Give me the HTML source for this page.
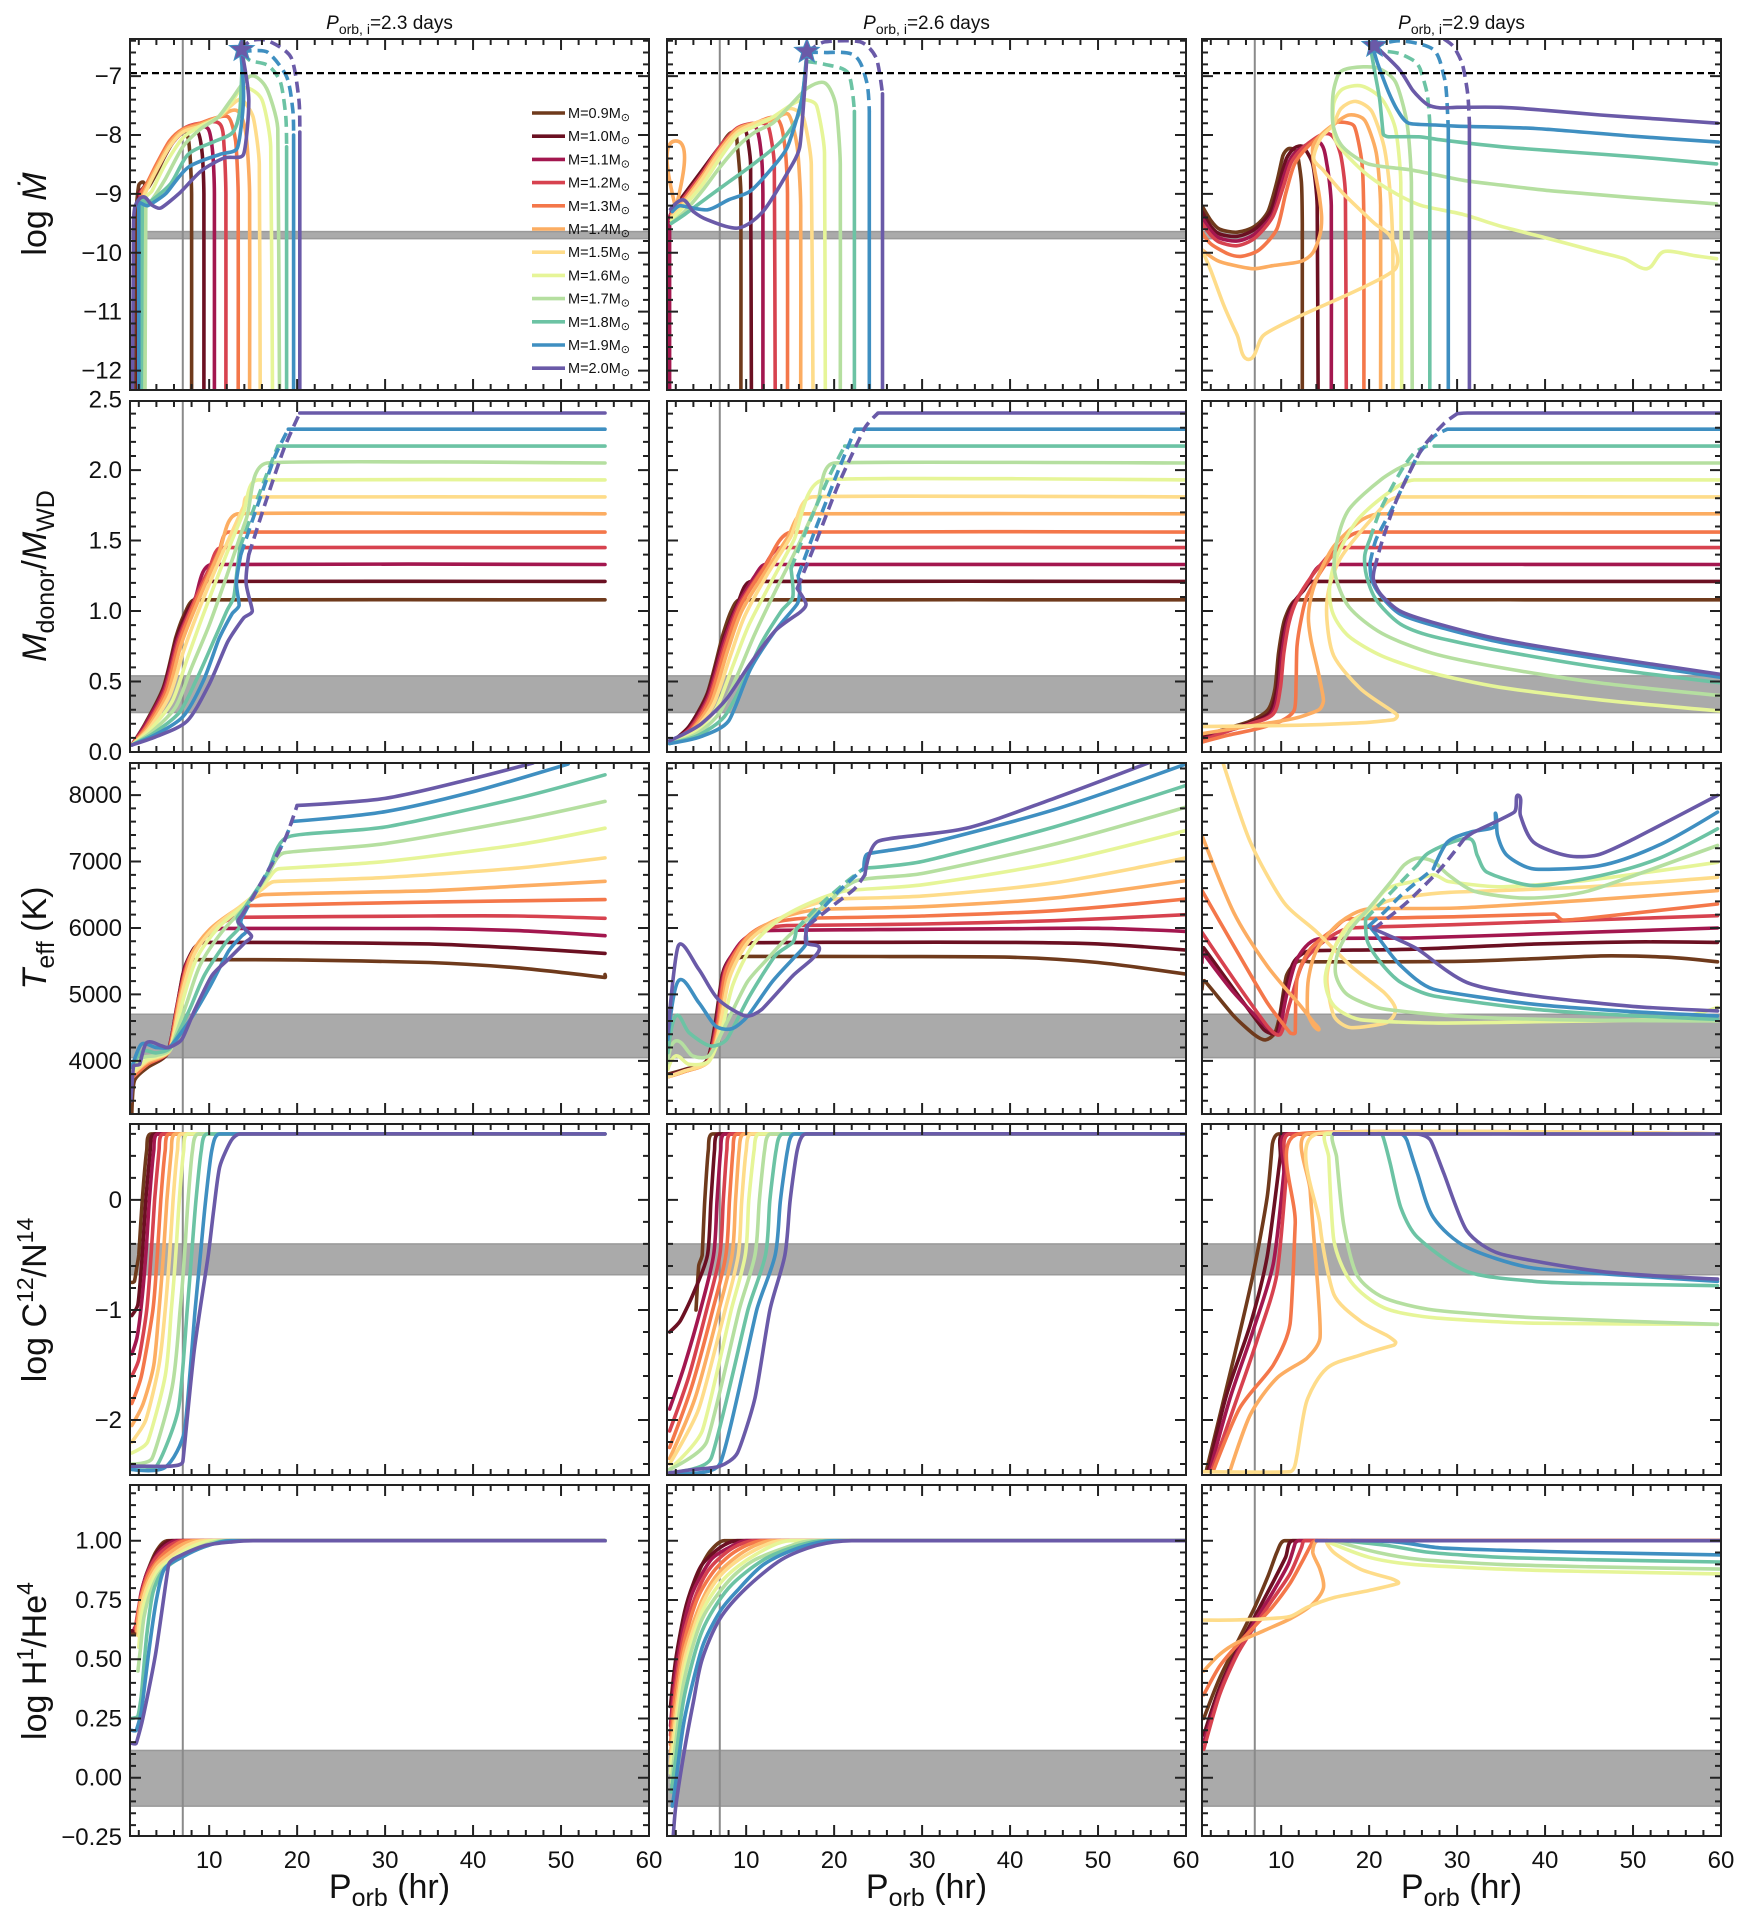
<!DOCTYPE html>
<html><head><meta charset="utf-8"><style>
html,body{margin:0;padding:0;background:#fff;}
svg{display:block;font-family:"Liberation Sans",sans-serif;}
</style></head><body>
<svg id="fig" width="1744" height="1920" viewBox="0 0 1744 1920" xmlns="http://www.w3.org/2000/svg"></svg>
<script>
// ---------- data ----------
const massLabels=["0.9","1.0","1.1","1.2","1.3","1.4","1.5","1.6","1.7","1.8","1.9","2.0"];
const colors=["#6f3a1c","#6b1022","#a3174f","#d7424f","#f4774a","#fcad62","#fedc8a","#e6f598","#b5dfa0","#6cc3a4","#3f8fc1","#6a5aa8"];
const periodTitles=["2.3","2.6","2.9"];
const xTicks=[10,20,30,40,50,60];
const yRanges=[[-12.33,-6.37],[0,2.49],[3200,8483],[-2.5,0.69],[-0.246,1.235]];
const yTickVals=[[-7,-8,-9,-10,-11,-12],[0,0.5,1,1.5,2,2.5],[4000,5000,6000,7000,8000],[0,-1,-2],[-0.25,0,0.25,0.5,0.75,1]];
const yTickLabels=[["−7","−8","−9","−10","−11","−12"],["0.0","0.5","1.0","1.5","2.0","2.5"],["4000","5000","6000","7000","8000"],["0","−1","−2"],["−0.25","0.00","0.25","0.50","0.75","1.00"]];
const yMinor=[0.2,0.1,200,0.2,0.05];
const bands=[[-9.76,-9.64],[0.28,0.54],[4048,4701],[-0.68,-0.40],[-0.12,0.115]];
const refPeriod=7.0;
const eddLimit=-6.95;
const stars=[[13.7,-6.55],[16.9,-6.58],[20.6,-6.48]];

// series: [massIndex, dashed, points]
const mdot23=[
[0,0,[[1.6,-12.35],[1.7,-9.3],[2,-8.85],[2.5,-8.8],[3,-8.9],[4,-8.65],[5,-8.35],[6,-8.1],[7.3,-7.95],[7.8,-8.3],[8,-9],[8,-12.35]]],
[1,0,[[1.9,-12.35],[2,-9.0],[2.5,-8.9],[4,-8.6],[5.5,-8.2],[7,-7.95],[8.6,-7.92],[9.2,-8.3],[9.4,-9],[9.4,-12.35]]],
[2,0,[[2.0,-12.35],[2.1,-9.0],[3,-8.85],[4,-8.6],[5.5,-8.2],[7,-7.95],[8.5,-7.85],[9.9,-7.9],[10.4,-8.3],[10.6,-9],[10.6,-12.35]]],
[3,0,[[2.1,-12.35],[2.2,-9.0],[3,-8.85],[4,-8.55],[5.5,-8.15],[7,-7.9],[9,-7.8],[11.2,-7.81],[11.7,-8.2],[11.9,-9],[11.9,-12.35]]],
[4,0,[[2.2,-12.35],[2.3,-9.0],[3,-8.8],[4,-8.5],[5.5,-8.1],[7,-7.9],[9,-7.8],[10.5,-7.72],[12.2,-7.7],[13,-8.1],[13.3,-9],[13.3,-12.35]]],
[5,0,[[2.3,-12.35],[2.4,-9.1],[3,-8.85],[4,-8.55],[5.5,-8.15],[7,-7.92],[9,-7.82],[11,-7.7],[13.2,-7.59],[14.2,-8.0],[14.6,-9],[14.6,-12.35]]],
[6,0,[[2.4,-12.35],[2.5,-9.1],[3,-8.9],[4,-8.6],[5.5,-8.2],[7,-7.95],[9,-7.85],[11,-7.7],[12.5,-7.5],[13.7,-7.4],[15,-7.7],[15.7,-8.5],[15.8,-12.35]]],
[7,0,[[2.5,-12.35],[2.6,-9.1],[3.5,-8.95],[5,-8.5],[7,-8.05],[9,-7.85],[11,-7.7],[12.5,-7.45],[14,-7.2],[16,-7.4],[17,-8.2],[17.2,-12.35]]],
[8,0,[[2.7,-12.35],[2.8,-9.2],[3.5,-9.1],[5,-8.75],[7,-8.2],[9,-7.9],[11,-7.7],[12.5,-7.4],[14.7,-7.0],[16.5,-7.2],[17.8,-7.9],[18,-12.35]]],
[9,0,[[2.3,-12.35],[2.4,-9.1],[3,-9.16],[5.6,-8.83],[7.6,-8.33],[10.6,-8.11],[12.7,-7.95],[13.5,-7.56],[13.8,-6.6]]],
[9,1,[[13.8,-6.6],[14.7,-6.74],[16.7,-6.82],[18.1,-7.1],[18.7,-7.67],[18.8,-8.2]]],
[9,0,[[18.8,-8.2],[18.8,-12.35]]],
[10,0,[[2.0,-12.35],[2.0,-9.16],[3,-9.2],[5.1,-8.99],[7.6,-8.55],[11.2,-8.33],[13.2,-8.22],[13.9,-7.4],[13.6,-6.6]]],
[10,1,[[13.6,-6.6],[14.7,-6.57],[16.7,-6.6],[18.8,-7.01],[19.5,-7.56],[19.6,-8.0]]],
[10,0,[[19.6,-8.0],[19.6,-12.35]]],
[11,0,[[1.3,-12.35],[1.4,-9.5],[1.6,-9.2],[2.5,-9.05],[3.5,-9.19],[4.5,-9.24],[6.6,-8.99],[9.1,-8.61],[11.7,-8.39],[13.9,-8.33],[14.5,-7.4],[13.7,-6.57]]],
[11,1,[[13.7,-6.57],[14.7,-6.4],[16.7,-6.4],[19.3,-6.68],[20.2,-7.4],[20.3,-7.95]]],
[11,0,[[20.3,-7.95],[20.3,-12.35]]]
];
const mdot26=[
[0,0,[[1.5,-9.3],[3,-9.0],[5,-8.6],[7,-8.2],[8.5,-7.95],[9.0,-8.2],[9.4,-9],[9.4,-12.35]]],
[1,0,[[1.5,-9.3],[3,-9.0],[5,-8.6],[7,-8.2],[9,-7.9],[10,-7.95],[10.5,-8.5],[10.6,-12.35]]],
[2,0,[[1.3,-12.35],[1.3,-9.4],[1.6,-9.3],[3,-9.05],[5,-8.65],[7,-8.2],[9,-7.9],[11,-7.85],[11.7,-8.3],[11.9,-9],[11.9,-12.35]]],
[3,0,[[1.5,-9.35],[3,-9.05],[5,-8.65],[7,-8.2],[9,-7.88],[11,-7.8],[12.5,-7.85],[13.2,-8.5],[13.3,-12.35]]],
[4,0,[[1.5,-9.35],[3,-9.1],[5,-8.7],[7,-8.25],[9,-7.9],[11,-7.8],[13.5,-7.72],[14.4,-8.2],[14.7,-9],[14.7,-12.35]]],
[5,0,[[1.5,-9.4],[1.9,-9.2],[2.0,-8.1],[2.1,-9.2],[3,-9.1],[5,-8.7],[7,-8.25],[9,-7.9],[11,-7.8],[13,-7.75],[14.8,-7.65],[15.8,-8.2],[16.2,-9.2],[16.2,-12.35]]],
[6,0,[[1.5,-9.4],[3,-9.15],[5,-8.75],[7,-8.3],[9,-7.95],[11,-7.8],[13,-7.7],[15,-7.55],[16.5,-7.7],[17.4,-8.5],[17.6,-12.35]]],
[7,0,[[1.5,-9.45],[3,-9.2],[5,-8.85],[7,-8.4],[9,-8.0],[11,-7.85],[13,-7.7],[15,-7.5],[16.5,-7.4],[18,-7.5],[18.9,-8.3],[19.0,-12.35]]],
[8,0,[[1.5,-9.5],[3,-9.3],[5,-8.95],[7,-8.55],[9,-8.2],[11,-7.95],[13,-7.8],[15,-7.5],[17,-7.2],[19,-7.12],[20.2,-7.5],[20.7,-8.5],[20.7,-12.35]]],
[9,0,[[1.5,-9.5],[3,-9.35],[5.6,-9.06],[8,-8.8],[10.5,-8.53],[14,-8.1],[16.1,-7.6],[16.8,-6.75]]],
[9,1,[[16.8,-6.75],[18.9,-6.8],[21.6,-6.95],[22.3,-7.6]]],
[9,0,[[22.3,-7.6],[22.3,-12.35]]],
[10,0,[[1.6,-9.3],[2.5,-9.2],[5.6,-9.27],[8,-9.1],[10.5,-8.95],[13,-8.55],[14.7,-8.2],[16.3,-7.4],[16.9,-6.6]]],
[10,1,[[16.9,-6.6],[18.9,-6.6],[22.3,-6.65],[23.7,-7.1],[24,-7.6]]],
[10,0,[[24,-7.6],[24,-12.35]]],
[11,0,[[1.4,-9.26],[2.8,-9.1],[4,-9.3],[5.6,-9.44],[9.1,-9.58],[11.9,-9.3],[14.7,-8.64],[16.1,-8.2],[16.8,-6.9],[16.9,-6.6]]],
[11,1,[[16.9,-6.6],[18.9,-6.42],[23,-6.42],[24.8,-6.7],[25.5,-7.3]]],
[11,0,[[25.5,-7.3],[25.5,-12.35]]]
];
const mdot29=[
[0,0,[[1,-9.2],[2,-9.45],[3,-9.6],[5,-9.65],[7,-9.55],[8.5,-9.3],[9.5,-8.8],[10.2,-8.35],[10.9,-8.23],[11.8,-8.3],[12.3,-8.8],[12.4,-9.5],[12.4,-12.35]]],
[1,0,[[1,-9.3],[2,-9.55],[3,-9.68],[5,-9.72],[7,-9.6],[8.8,-9.3],[9.8,-8.8],[10.6,-8.4],[11.5,-8.22],[12.5,-8.2],[13.6,-8.5],[14.1,-9.2],[14.2,-12.35]]],
[2,0,[[1,-9.4],[2,-9.62],[3,-9.75],[5,-9.8],[7,-9.68],[9,-9.35],[10,-8.85],[10.9,-8.45],[12,-8.25],[14.3,-8.12],[15.2,-8.5],[15.7,-9.2],[15.7,-12.35]]],
[3,0,[[1,-9.5],[2,-9.7],[3,-9.82],[5,-9.88],[7,-9.75],[9,-9.4],[10.2,-8.9],[11.2,-8.45],[13,-8.15],[15.4,-7.98],[16.7,-8.3],[17.3,-9.0],[17.4,-12.35]]],
[4,0,[[1,-9.65],[2,-9.85],[4,-10.02],[5.5,-10.06],[7.5,-9.95],[9.5,-9.6],[10.5,-9.0],[11.5,-8.5],[13,-8.2],[15.9,-7.83],[16.5,-7.78],[18.3,-7.85],[19.2,-8.5],[19.4,-9.5],[19.4,-12.35]]],
[5,0,[[1,-9.95],[3,-10.15],[6.7,-10.27],[9,-10.22],[12.2,-10.15],[13.6,-10.0],[14.4,-9.7],[14.6,-9.4],[14.3,-9.0],[13.7,-8.5],[13.6,-8.2],[14.5,-8.0],[15.9,-7.83],[17.7,-7.66],[19.5,-7.75],[20.8,-8.3],[21.3,-9.2],[21.3,-12.35]]],
[6,0,[[1,-9.95],[2,-10.3],[3.5,-10.9],[5,-11.4],[6.3,-11.81],[8,-11.4],[12.2,-11.07],[17,-10.75],[21.3,-10.44],[23.0,-10.27],[23.2,-10.05],[22.3,-9.7],[20.6,-9.5],[17.1,-9.0],[14.8,-8.6],[13.7,-8.4],[14.5,-8.05],[15.9,-7.83],[16.8,-7.55],[18.5,-7.43],[20.3,-7.6],[21.7,-8.2],[22.4,-9.0],[22.7,-10],[22.7,-12.35]]],
[7,0,[[59.5,-10.1],[57,-10.05],[53.5,-9.98],[51.6,-10.27],[49,-10.1],[45.9,-9.98],[40.2,-9.75],[35,-9.55],[30.7,-9.35],[26,-9.2],[23.1,-9.0],[20,-8.7],[17.5,-8.35],[16.2,-8.1],[15.9,-7.83],[16.0,-7.45],[17,-7.22],[19.2,-7.17],[21.5,-7.4],[23,-7.9],[23.6,-8.8],[23.7,-12.35]]],
[8,0,[[59.5,-9.17],[55,-9.12],[49.7,-9.06],[45,-9.0],[40.2,-8.94],[35,-8.85],[30.7,-8.77],[25,-8.6],[19.9,-8.49],[17,-8.2],[15.9,-7.83],[15.9,-7.3],[16.6,-6.95],[18,-6.86],[20.9,-6.86],[23,-7.1],[24.3,-7.8],[24.8,-8.8],[24.9,-12.35]]],
[9,0,[[59.5,-8.49],[50.3,-8.37],[42,-8.28],[35.1,-8.2],[28,-8.08],[25.6,-8.03],[22.2,-8.03],[21.6,-7.98],[21.2,-7.4],[20.6,-6.9],[20.2,-6.55]]],
[9,1,[[20.2,-6.55],[22,-6.58],[23.5,-6.62],[25.2,-6.75],[25.8,-6.88],[26.6,-7.3],[26.9,-7.8]]],
[9,0,[[26.9,-7.8],[26.9,-12.35]]],
[10,0,[[59.7,-8.12],[50,-8.02],[38.9,-7.89],[30,-7.85],[27.5,-7.83],[24.5,-7.8],[23.3,-7.6],[22.2,-7.27],[21,-6.8],[20.4,-6.5]]],
[10,1,[[20.4,-6.5],[23.5,-6.4],[27.3,-6.55],[28.5,-7.0],[28.8,-7.3],[29,-7.9]]],
[10,0,[[29,-7.9],[29,-12.35]]],
[11,0,[[59.6,-7.8],[53,-7.73],[46.3,-7.66],[40,-7.58],[35,-7.53],[30,-7.53],[28.1,-7.54],[26.6,-7.48],[25,-7.25],[23.5,-6.9],[21.5,-6.6],[20.6,-6.48]]],
[11,1,[[28.5,-6.37],[29.6,-6.5],[30.6,-6.8],[31.2,-7.3],[31.4,-7.8]]],
[11,0,[[31.4,-7.8],[31.4,-12.35]]]
];
const q23=[
[0,0,[[1.2,0.05],[2.7,0.2],[4.8,0.46],[6.2,0.81],[7.2,0.98],[8.4,1.08],[55,1.08]]],
[1,0,[[1.2,0.05],[2.7,0.19],[4.8,0.45],[6.3,0.81],[7.5,1.0],[8.5,1.1],[9.6,1.21],[55,1.21]]],
[2,0,[[1.2,0.05],[2.7,0.19],[4.9,0.45],[6.4,0.8],[8.3,1.07],[10.3,1.33],[55,1.33]]],
[3,0,[[1.2,0.05],[2.8,0.18],[5,0.44],[6.5,0.79],[8.3,1.07],[10,1.3],[11.4,1.45],[55,1.45]]],
[4,0,[[1.2,0.05],[2.9,0.18],[5.1,0.43],[6.6,0.78],[8.4,1.06],[11.1,1.42],[12.2,1.56],[55,1.56]]],
[5,0,[[1.2,0.05],[3,0.17],[5.3,0.42],[6.8,0.76],[8.6,1.05],[11.1,1.41],[13.3,1.69],[55,1.69]]],
[6,0,[[1.2,0.05],[3.1,0.16],[5.5,0.4],[7.1,0.72],[8.9,1.02],[11.3,1.38],[13.9,1.74],[14.3,1.81],[55,1.81]]],
[7,0,[[1.2,0.05],[3.2,0.15],[5.8,0.36],[7.5,0.66],[9.3,0.97],[11.5,1.33],[13.9,1.7],[15.5,1.93],[55,1.93]]],
[8,0,[[1.2,0.05],[3.4,0.14],[6.2,0.32],[8,0.6],[10,0.9],[12,1.25],[14.2,1.65],[16.6,2.05],[55,2.05]]],
[9,0,[[1.2,0.05],[3.6,0.13],[6.6,0.28],[8.6,0.52],[10.6,0.8],[12,1.0],[12.8,1.1],[13.2,1.3],[13.5,1.45]]],
[9,1,[[13.5,1.45],[15.5,1.8],[17.8,2.17]]],
[9,0,[[17.8,2.17],[55,2.17]]],
[10,0,[[1.2,0.05],[3.8,0.12],[7,0.25],[9.3,0.5],[11.1,0.8],[12.6,0.98],[13.4,1.04],[13.1,1.2],[13.6,1.4]]],
[10,1,[[13.6,1.4],[15.5,1.75],[17.5,2.1],[19,2.29]]],
[10,0,[[19,2.29],[55,2.29]]],
[11,0,[[1.2,0.05],[4,0.11],[7.5,0.22],[10,0.48],[12.1,0.78],[13.9,0.95],[14.9,1.0],[14.2,1.2],[14.5,1.4]]],
[11,1,[[14.5,1.4],[16.3,1.75],[18.5,2.15],[20.3,2.405]]],
[11,0,[[20.3,2.405],[55,2.405]]]
];
const q26=[
[0,0,[[1.3,0.06],[3.5,0.18],[5.6,0.42],[7.3,0.82],[8.3,1.0],[9.3,1.08],[60,1.08]]],
[1,0,[[1.3,0.06],[3.5,0.18],[5.6,0.41],[7.4,0.8],[9,1.05],[10.6,1.21],[60,1.21]]],
[2,0,[[1.3,0.06],[3.6,0.17],[5.7,0.4],[7.5,0.79],[9.1,1.05],[11,1.25],[12.2,1.33],[60,1.33]]],
[3,0,[[1.3,0.06],[3.7,0.17],[5.8,0.39],[7.6,0.77],[9.2,1.04],[11.9,1.3],[14,1.45],[60,1.45]]],
[4,0,[[1.3,0.06],[3.8,0.16],[5.9,0.38],[7.7,0.75],[9.3,1.03],[12,1.3],[15.2,1.56],[60,1.56]]],
[5,0,[[1.3,0.06],[3.9,0.16],[6.1,0.36],[7.9,0.72],[9.5,1.0],[12.2,1.28],[14.7,1.52],[16.5,1.69],[60,1.69]]],
[6,0,[[1.3,0.06],[4,0.15],[6.3,0.34],[8.2,0.68],[9.8,0.96],[12.4,1.26],[15,1.52],[17.5,1.81],[60,1.81]]],
[7,0,[[1.3,0.06],[4.2,0.14],[6.6,0.31],[8.6,0.63],[10.3,0.9],[12.8,1.2],[15.4,1.5],[18.8,1.93],[60,1.93]]],
[8,0,[[1.3,0.06],[4.4,0.13],[7,0.28],[9.1,0.56],[11,0.84],[13.3,1.14],[15.8,1.45],[18,1.75],[20,2.05],[60,2.05]]],
[9,0,[[1.3,0.06],[4.6,0.12],[7.5,0.25],[9.7,0.5],[11.8,0.78],[14,1.0],[15.3,1.1],[15.1,1.3]]],
[9,1,[[15.1,1.3],[17,1.6],[19.4,1.95],[21.2,2.17]]],
[9,0,[[21.2,2.17],[60,2.17]]],
[10,0,[[1.3,0.06],[4.9,0.11],[8,0.22],[10.5,0.59],[13.3,0.86],[15.8,1.05],[16.1,1.16],[15.9,1.25]]],
[10,1,[[15.9,1.25],[18,1.6],[20.5,2.0],[22.4,2.29]]],
[10,0,[[22.4,2.29],[60,2.29]]],
[11,0,[[1.3,0.08],[3,0.13],[4.9,0.2],[7.7,0.37],[10.5,0.63],[13.3,0.86],[16.1,0.99],[16.8,1.05],[15.8,1.16]]],
[11,1,[[15.8,1.16],[18,1.5],[20.5,1.9],[23.5,2.3],[25,2.405]]],
[11,0,[[25,2.405],[60,2.405]]]
];
const q29=[
[0,0,[[1,0.11],[4,0.17],[6.5,0.22],[8.5,0.3],[9.3,0.45],[9.7,0.7],[10.3,0.92],[11,1.03],[11.8,1.08],[60,1.08]]],
[1,0,[[1,0.1],[4,0.16],[6.5,0.21],[8.7,0.28],[9.5,0.45],[9.9,0.7],[10.5,0.92],[11.3,1.05],[12.6,1.15],[13.5,1.21],[60,1.21]]],
[2,0,[[1,0.09],[4,0.15],[6.5,0.2],[8.9,0.27],[9.7,0.45],[10.1,0.7],[10.7,0.92],[11.6,1.06],[13,1.2],[14.8,1.33],[60,1.33]]],
[3,0,[[1,0.08],[4,0.15],[6.5,0.2],[9.1,0.27],[9.9,0.45],[10.3,0.7],[10.9,0.92],[11.8,1.08],[13.5,1.25],[15.6,1.41],[16.2,1.45],[60,1.45]]],
[4,0,[[1,0.07],[4,0.12],[7,0.16],[10,0.22],[11.5,0.3],[11.7,0.5],[11.8,0.75],[12.3,0.95],[12.9,1.1],[14.5,1.28],[16,1.41],[17.5,1.52],[19,1.56],[60,1.56]]],
[5,0,[[1,0.13],[6,0.18],[10,0.22],[12.2,0.25],[14.3,0.3],[14.8,0.36],[14.6,0.45],[14.1,0.6],[13.4,0.79],[13.1,0.95],[13.4,1.1],[14.2,1.25],[16,1.46],[19,1.64],[21.3,1.69],[60,1.69]]],
[6,0,[[1,0.18],[12.2,0.19],[19.8,0.21],[22.8,0.23],[23.2,0.26],[22.4,0.3],[19,0.45],[16,0.68],[15.2,0.94],[15.4,1.15],[16.7,1.37],[19,1.56],[22,1.77],[23.5,1.81],[60,1.81]]],
[7,0,[[60,0.29],[46.2,0.37],[34.8,0.46],[27.2,0.56],[21.5,0.68],[17.7,0.82],[15.9,0.98],[15.5,1.17],[16.3,1.38],[18.6,1.64],[22,1.83],[25.1,1.93],[60,1.93]]],
[8,0,[[60,0.4],[46.2,0.49],[34.8,0.6],[27.2,0.7],[21.5,0.84],[17.7,1.03],[16.1,1.27],[16.3,1.48],[17.7,1.72],[21.3,1.93],[24.3,2.04],[26.6,2.05],[60,2.05]]],
[9,0,[[60,0.49],[46.2,0.6],[34.8,0.72],[27.2,0.82],[23.5,0.91],[20.8,1.08],[19.7,1.25],[19.5,1.39],[20.1,1.51]]],
[9,1,[[20.1,1.51],[21.3,1.72],[23.5,1.98],[25.1,2.12],[26.6,2.17],[27.4,2.17]]],
[9,0,[[27.4,2.17],[60,2.17]]],
[10,0,[[60,0.53],[46.2,0.66],[34.8,0.78],[27.2,0.9],[23.5,0.98],[21.3,1.11],[20.3,1.22],[20.1,1.34]]],
[10,1,[[20.1,1.34],[20.8,1.51],[22.8,1.75],[25.5,2.1],[27.4,2.24],[28.9,2.29]]],
[10,0,[[28.9,2.29],[60,2.29]]],
[11,0,[[60,0.55],[46.2,0.68],[34.8,0.8],[27.2,0.92],[23.5,1.0],[21.3,1.12],[20.5,1.22],[20.6,1.3]]],
[11,1,[[20.6,1.3],[21.5,1.5],[23.2,1.8],[26,2.15],[28.5,2.33],[30,2.4]]],
[11,0,[[30,2.4],[31.2,2.405],[60,2.405]]]
];
const teff23=[
[0,0,[[1.2,3200],[1.5,3700],[3,3900],[5.2,4100],[6.2,4700],[7,5300],[7.8,5500],[8.6,5522],[20,5520],[35,5480],[45,5400],[55,5255],[55,5300]]],
[1,0,[[1.3,3750],[3,3950],[5.3,4120],[6.3,4800],[7.2,5400],[8.3,5700],[9.4,5783],[20,5780],[35,5760],[45,5700],[55,5617]]],
[2,0,[[1.3,3750],[3,3950],[5.3,4130],[6.4,4850],[7.4,5450],[9,5800],[10.5,5950],[11.5,5994],[35,5990],[45,5960],[55,5884]]],
[3,0,[[1.3,3750],[3,3950],[5.4,4140],[6.5,4900],[7.6,5500],[9.5,5880],[11.5,6080],[13.2,6160],[35,6180],[45,6180],[55,6145]]],
[4,0,[[1.3,3750],[3,3950],[5.4,4150],[6.6,4950],[7.8,5550],[10,5950],[12.5,6200],[14.7,6336],[35,6390],[55,6427]]],
[5,0,[[1.3,3800],[3,3980],[5.5,4150],[6.7,4950],[8,5600],[10,5970],[13,6270],[16.2,6502],[35,6560],[45,6630],[55,6703]]],
[6,0,[[1.3,3800],[3,4000],[5.5,4160],[6.9,5000],[8.3,5600],[10.5,6000],[13.5,6320],[16,6580],[17.4,6698],[30,6760],[45,6900],[55,7054]]],
[7,0,[[1.3,3850],[3,4020],[5.6,4170],[7.1,4950],[8.6,5550],[11,6000],[14,6350],[16.5,6700],[17.9,6890],[30,7000],[45,7250],[55,7502]]],
[8,0,[[1.3,3900],[2.5,4050],[4,4080],[5.6,4180],[7.4,4850],[9,5450],[11.5,5950],[14.3,6350],[16.6,6789],[18.5,7130],[30,7270],[45,7620],[55,7905]]],
[9,0,[[1.3,3950],[2.5,4150],[4,4120],[5.6,4200],[7.7,4750],[9.5,5300],[12,5800],[13.4,6000],[13.2,6150],[14,6300],[16.5,6800],[18.9,7367],[30,7520],[45,7950],[55,8306]]],
[10,0,[[1.2,3900],[2.3,4250],[4,4200],[5.6,4220],[8,4650],[10,5100],[12.2,5650],[13.7,5880],[14.2,5950],[13.6,6080],[13.9,6200]]],
[10,1,[[13.9,6200],[16,6700],[18.5,7300],[19.4,7603]]],
[10,0,[[19.4,7603],[30,7750],[40,8050],[50.8,8468]]],
[11,0,[[1.1,3400],[1.4,3920],[2.1,3950],[2.9,4275],[4.5,4230],[5.4,4199],[6.9,4325],[8.4,4777],[10.3,5281],[12.2,5531],[14.1,5783],[14.8,5884],[13.3,6085],[13.7,6185]]],
[11,1,[[13.7,6185],[16,6700],[18.5,7300],[20,7845]]],
[11,0,[[20,7845],[30,7950],[40,8250],[46.8,8483]]]
];
const teff26=[
[0,0,[[1.1,3800],[3,3870],[5.5,4000],[6.4,4500],[7.3,5300],[8.5,5500],[10,5572],[25,5570],[40,5560],[50,5480],[60,5305]]],
[1,0,[[1.1,3780],[3,3860],[5.5,3990],[6.5,4550],[7.4,5350],[8.8,5650],[10.9,5778],[25,5785],[40,5783],[50,5760],[60,5667]]],
[2,0,[[1.1,3770],[3,3850],[5.6,3990],[6.6,4550],[7.5,5350],[9.5,5800],[12,5959],[25,5975],[40,5989],[50,5995],[60,5949]]],
[3,0,[[1.1,3760],[3,3840],[5.6,3990],[6.7,4550],[7.6,5350],[9.8,5830],[12,5980],[14.6,6035],[30,6060],[45,6110],[60,6200]]],
[4,0,[[1.1,3760],[3,3840],[5.7,3990],[6.8,4550],[7.7,5350],[10,5850],[12.5,6060],[16.5,6145],[30,6180],[45,6260],[60,6436]]],
[5,0,[[1.1,3760],[3,3840],[5.7,3990],[6.9,4500],[7.9,5300],[10,5830],[13,6100],[16,6230],[19.1,6285],[30,6320],[45,6450],[60,6713]]],
[6,0,[[1.1,3760],[3,3850],[5.8,3995],[7.0,4500],[8.1,5250],[10.3,5800],[13.5,6120],[17,6330],[20.3,6436],[30,6480],[45,6680],[60,7054]]],
[7,0,[[1.1,3872],[2,4074],[3.5,3948],[5.8,4000],[7.2,4450],[8.5,5150],[10.8,5750],[14,6150],[18,6420],[21.5,6562],[30,6650],[45,6980],[60,7467]]],
[8,0,[[1.1,3973],[2,4300],[3.9,4074],[5.8,4080],[7.8,4577],[10.1,5180],[12.4,5532],[15,5900],[19,6350],[22.6,6713],[30,6820],[45,7260],[60,7819]]],
[9,0,[[1.1,4124],[2,4677],[3.5,4425],[5.9,4225],[7.8,4325],[10.4,4979],[13.3,5582],[15.3,5783],[15.7,5984]]],
[9,1,[[15.7,5984],[18,6300],[21,6650],[23.4,6899]]],
[9,0,[[23.4,6899],[30,7000],[45,7520],[60,8146]]],
[10,0,[[1.1,4325],[2.3,5204],[4.6,4878],[6.5,4526],[8.4,4486],[10.2,4677],[12.9,5180],[15.3,5532],[16.8,5758],[16.8,5984],[17.6,6135]]],
[10,1,[[17.6,6135],[20.5,6550],[23.4,6899]]],
[10,0,[[23.4,6899],[23.8,7115],[30,7250],[45,7780],[60,8468]]],
[11,0,[[1.1,4425],[2.3,5733],[4.6,5380],[6.8,4929],[9.9,4677],[11.8,4778],[15.3,5281],[17.5,5532],[18.3,5708],[16.8,5783],[17,6035]]],
[11,1,[[17,6035],[20,6350],[22.3,6588],[23.5,6800]]],
[11,0,[[23.5,6800],[25,7306],[35,7500],[45,7950],[55.7,8483]]]
];
const teff29=[
[0,0,[[1,5079],[1.3,5204],[4.6,4677],[6.9,4400],[8.2,4315],[9.3,4425],[9.9,4727],[10.6,5280],[11.8,5491],[13.3,5491],[31.1,5500],[46.3,5580],[53.9,5560],[59.6,5491]]],
[1,0,[[1,5632],[1.2,5700],[4.6,5079],[8,4475],[9.5,4425],[10.3,4978],[11.4,5481],[13.3,5657],[25,5680],[38.7,5757],[50,5790],[59.6,5783]]],
[2,0,[[1,5481],[1.2,5607],[4.6,5029],[8.4,4500],[9.7,4415],[10.6,4978],[11.8,5531],[14.1,5833],[25,5850],[38.7,5908],[59.6,5999]]],
[3,0,[[1,5934],[4.6,5230],[8.4,4526],[9.9,4400],[11,4878],[12.5,5481],[15.2,5833],[17.9,5999],[30,6050],[45,6120],[59.6,6185]]],
[4,0,[[1,6562],[4.6,5733],[8.4,4878],[11,4425],[11.6,4425],[11.8,5230],[13.3,5682],[16,5984],[17.5,6135],[30,6170],[41,6210],[42,6120],[45,6150],[59.6,6361]]],
[5,0,[[1,7392],[4.6,6235],[8.4,5431],[12.2,4828],[13.7,4576],[14.3,4475],[13.7,4526],[13,4727],[13.1,5230],[14.1,5682],[16.7,6085],[19.8,6285],[30,6300],[45,6420],[59.6,6562]]],
[6,0,[[3.4,8483],[6.5,7291],[10.3,6386],[14.1,5934],[17.9,5431],[21.7,5029],[23,4777],[22,4576],[17.9,4500],[16,4677],[15.2,5230],[16,5682],[17.9,6085],[21.7,6386],[25,6480],[29.2,6537],[45,6620],[59.6,6763]]],
[7,0,[[59.6,4802],[57,4700],[53.9,4620],[40,4590],[27.3,4570],[19,4620],[16,4830],[15,5230],[16,5682],[18,6085],[19.8,6235],[22,6587],[25,6700],[27.3,6800],[29,6700],[35,6620],[45,6720],[59.6,6989]]],
[8,0,[[59.6,4601],[46.3,4610],[34.9,4640],[27.3,4700],[21,4800],[17.5,5000],[16.2,5300],[16.5,5650],[18,6000],[20,6300],[22.5,6700],[24,6950],[25.5,7050],[27.3,7000],[29,6800],[32,6550],[38,6450],[45,6560],[59.6,7241]]],
[9,0,[[59.6,4626],[50,4680],[38.7,4777],[27.3,4978],[23.6,5180],[21.3,5481],[19.8,5800],[19.6,6135]]],
[9,1,[[19.6,6135],[21.5,6400],[23.6,6688],[25.5,6950]]],
[9,0,[[25.5,6950],[26.6,7115],[28.9,7266],[31.5,7341],[32.3,7090],[33.4,6839],[38.7,6638],[46.3,6788],[53,7050],[59.6,7492]]],
[10,0,[[59.6,4677],[50,4740],[38.7,4853],[27.3,5079],[23.6,5431],[20.9,5883],[20,6034]]],
[10,1,[[20,6034],[21.8,6250],[23.6,6487],[25.5,6700],[27.3,6889]]],
[10,0,[[27.3,6889],[28.9,7291],[31.5,7442],[34.2,7517],[34.4,7719],[34.6,7392],[35.7,7090],[38.7,6889],[46.3,6939],[53,7250],[59.6,7744]]],
[11,0,[[59.6,4752],[50,4820],[38.7,4978],[31.1,5180],[25.5,5682],[22,5900],[20.5,5984]]],
[11,1,[[20.5,5984],[24.3,6386],[28.1,6889],[30.8,7341]]],
[11,0,[[30.8,7341],[31.9,7442],[36.5,7744],[37,7995],[37.2,7694],[38.7,7291],[42.5,7090],[46,7100],[50.1,7341],[59.6,7995]]]
];
const cn23=[
[0,0,[[1.2,-0.75],[1.5,-0.74],[1.8,-0.6],[2.0,-0.5],[2.4,0],[2.9,0.45],[3.4,0.6],[55,0.6]]],
[1,0,[[1.2,-1.05],[1.9,-0.95],[2.4,-0.5],[2.8,0],[3.3,0.45],[3.8,0.6],[55,0.6]]],
[2,0,[[1.2,-1.4],[1.8,-1.25],[2.3,-0.95],[2.8,-0.5],[3.2,0],[3.7,0.45],[4.2,0.6],[55,0.6]]],
[3,0,[[1.2,-1.6],[2,-1.45],[2.9,-1.0],[3.4,-0.5],[3.8,0],[4.3,0.45],[4.8,0.6],[55,0.6]]],
[4,0,[[1.2,-1.85],[2.3,-1.6],[3.6,-1.0],[4.1,-0.5],[4.5,0],[5,0.45],[5.5,0.6],[55,0.6]]],
[5,0,[[1.2,-2.05],[2.5,-1.85],[3.7,-1.5],[4.3,-1.0],[4.8,-0.5],[5.2,0],[5.7,0.45],[6.2,0.6],[55,0.6]]],
[6,0,[[1.2,-2.2],[2.8,-2.0],[4.3,-1.5],[5.0,-1.0],[5.5,-0.5],[5.9,0],[6.4,0.45],[6.9,0.6],[55,0.6]]],
[7,0,[[1.2,-2.3],[3,-2.2],[5,-1.6],[5.7,-1.0],[6.2,-0.5],[6.6,0],[7.1,0.45],[7.6,0.6],[55,0.6]]],
[8,0,[[1.2,-2.4],[3.5,-2.35],[5.8,-1.7],[6.7,-1.0],[7.2,-0.5],[7.6,0],[8.1,0.45],[8.8,0.6],[55,0.6]]],
[9,0,[[1.2,-2.45],[4,-2.42],[6.5,-1.9],[7.5,-1.0],[8.0,-0.5],[8.5,0],[9.1,0.45],[9.8,0.6],[55,0.6]]],
[10,0,[[1.2,-2.45],[5,-2.43],[7.2,-2.1],[8.4,-1.0],[9.0,-0.5],[9.6,0],[10.3,0.45],[11.2,0.6],[55,0.6]]],
[11,0,[[1.2,-2.42],[2,-2.42],[5.5,-2.42],[7,-2.38],[8.3,-1.37],[9.9,-0.5],[10.5,-0.1],[11.2,0.3],[12.5,0.54],[13.5,0.6],[55,0.6]]]
];
const cn26=[
[0,0,[[4.3,-1.0],[4.6,-0.6],[5.0,-0.5],[5.3,0],[5.7,0.45],[6.2,0.6],[60,0.6]]],
[1,0,[[1.3,-1.2],[2.5,-1.1],[4,-0.85],[5.6,-0.5],[6,0],[6.4,0.45],[6.9,0.6],[60,0.6]]],
[2,0,[[1.3,-1.9],[3,-1.5],[4.8,-1.0],[6.3,-0.5],[6.7,0],[7.1,0.45],[7.6,0.6],[60,0.6]]],
[3,0,[[1.3,-2.1],[3.5,-1.6],[5.5,-1.0],[7.0,-0.5],[7.4,0],[7.8,0.45],[8.3,0.6],[60,0.6]]],
[4,0,[[1.3,-2.25],[3.8,-1.7],[6.2,-1.0],[7.7,-0.5],[8.1,0],[8.5,0.45],[9,0.6],[60,0.6]]],
[5,0,[[1.3,-2.35],[4.2,-1.8],[6.9,-1.0],[8.4,-0.5],[8.8,0],[9.2,0.45],[9.8,0.6],[60,0.6]]],
[6,0,[[1.3,-2.4],[4.6,-1.9],[7.6,-1.0],[9.1,-0.5],[9.5,0],[10,0.45],[10.6,0.6],[60,0.6]]],
[7,0,[[1.3,-2.45],[5,-2.1],[8.3,-1.0],[9.9,-0.5],[10.3,0],[10.9,0.45],[11.5,0.6],[60,0.6]]],
[8,0,[[1.3,-2.45],[5.5,-2.2],[9.2,-1.0],[11.0,-0.5],[11.5,0],[12.1,0.45],[12.8,0.6],[60,0.6]]],
[9,0,[[1.3,-2.48],[6,-2.35],[10.2,-1.0],[12.2,-0.5],[12.7,0],[13.4,0.45],[14.2,0.6],[60,0.6]]],
[10,0,[[1.3,-2.48],[7,-2.4],[11.2,-1.0],[13.3,-0.5],[13.9,0],[14.7,0.45],[15.5,0.6],[60,0.6]]],
[11,0,[[1.3,-2.48],[4,-2.45],[7,-2.42],[9,-2.3],[11,-1.8],[12.7,-1.0],[14.4,-0.5],[15,0],[15.8,0.45],[16.8,0.6],[60,0.6]]]
];
const cn29=[
[0,0,[[1.5,-2.46],[4.6,-1.44],[6.8,-0.68],[8.4,0.02],[9,0.51],[9.7,0.6],[60,0.6]]],
[1,0,[[1.7,-2.46],[3.8,-1.77],[6.5,-1.13],[8.4,-0.52],[9.9,0.39],[10.3,0.6],[60,0.6]]],
[2,0,[[1.9,-2.46],[4.2,-1.8],[6.8,-1.19],[9.1,-0.58],[10.3,0.24],[10.7,0.6],[60,0.6]]],
[3,0,[[2.1,-2.46],[4.6,-1.89],[7.2,-1.29],[9.5,-0.68],[10.6,0.24],[11,0.6],[60,0.6]]],
[4,0,[[2.3,-2.46],[5.3,-1.89],[9.1,-1.5],[11,-1.13],[11.6,-0.22],[12,0.6],[60,0.6]]],
[5,0,[[4.2,-2.46],[6.5,-1.95],[9.5,-1.62],[12.9,-1.44],[14.4,-1.26],[14.2,-0.83],[13.3,0.085],[13.1,0.6],[60,0.6]]],
[6,0,[[1,-2.47],[11,-2.47],[11.8,-2.32],[12.9,-1.83],[15.2,-1.53],[19,-1.41],[22.8,-1.32],[23,-1.29],[22,-1.23],[19,-1.1],[16,-0.86],[14.4,-0.22],[14.1,0.6],[60,0.6]]],
[7,0,[[59.6,-1.13],[38.7,-1.12],[27.3,-1.07],[21.7,-0.98],[17.9,-0.74],[16,-0.37],[15.4,0.39],[15.2,0.6],[60,0.6]]],
[8,0,[[59.6,-1.13],[38.7,-1.07],[27.3,-1.0],[21.7,-0.89],[18.6,-0.68],[17.1,-0.22],[16.3,0.39],[16.1,0.6],[60,0.6]]],
[9,0,[[59.6,-0.78],[45,-0.76],[38.7,-0.74],[31.1,-0.65],[25.5,-0.34],[23.6,-0.07],[22.4,0.33],[21.5,0.59],[20.5,0.6],[16,0.6]]],
[10,0,[[59.6,-0.74],[38.7,-0.62],[31.1,-0.43],[27.3,-0.16],[25.5,0.24],[24.3,0.54],[23.6,0.6],[16,0.6]]],
[11,0,[[59.6,-0.72],[46.3,-0.65],[34.9,-0.49],[31.1,-0.28],[28.5,0.24],[27,0.54],[25.5,0.6],[16,0.6]]],
[11,0,[[16,0.6],[60,0.6]]]
];
const hhe23=[
[0,0,[[1.2,0.61],[2.1,0.61],[2.2,0.75],[2.7,0.84],[3.3,0.9],[3.9,0.95],[4.7,0.99],[5.4,1.0],[55,1.0]]],
[1,0,[[1.2,0.62],[2.0,0.63],[2.2,0.76],[2.8,0.85],[3.5,0.91],[4.2,0.96],[5,0.99],[5.8,1.0],[55,1.0]]],
[2,0,[[1.5,0.63],[1.9,0.66],[2.2,0.77],[2.9,0.86],[3.7,0.92],[4.5,0.96],[5.5,0.99],[6.3,1.0],[55,1.0]]],
[3,0,[[1.6,0.63],[2.2,0.76],[3,0.86],[3.8,0.92],[4.8,0.96],[6,0.99],[7,1.0],[55,1.0]]],
[4,0,[[1.7,0.62],[2.2,0.75],[3,0.85],[4,0.91],[5,0.95],[6.5,0.99],[7.5,1.0],[55,1.0]]],
[5,0,[[1.8,0.62],[2.2,0.74],[3,0.83],[4,0.9],[5.2,0.94],[7,0.985],[8.5,1.0],[55,1.0]]],
[6,0,[[1.9,0.6],[2.3,0.72],[3.1,0.82],[4.2,0.89],[5.5,0.93],[7.5,0.98],[9.5,1.0],[55,1.0]]],
[7,0,[[2,0.55],[2.4,0.7],[3.2,0.8],[4.3,0.88],[6,0.93],[8,0.975],[10.5,1.0],[55,1.0]]],
[8,0,[[1.9,0.45],[2.2,0.55],[2.6,0.68],[3.4,0.79],[4.5,0.87],[6.5,0.93],[9,0.975],[11.5,1.0],[55,1.0]]],
[9,0,[[1.2,0.25],[1.9,0.26],[2.3,0.35],[2.9,0.6],[3.6,0.78],[4.7,0.87],[6.8,0.93],[9.5,0.975],[12,1.0],[55,1.0]]],
[10,0,[[1.2,0.2],[1.7,0.2],[2.3,0.28],[3.2,0.55],[4,0.75],[4.9,0.88],[6.9,0.93],[9.5,0.975],[12.5,1.0],[55,1.0]]],
[11,0,[[1.2,0.145],[1.7,0.145],[2.4,0.24],[3.9,0.52],[5.4,0.9],[6.9,0.94],[9.6,0.98],[12.6,0.995],[15,1.0],[55,1.0]]]
];
const hhe26=[
[0,0,[[4.2,0.83],[5,0.9],[6,0.96],[7.5,1.0],[60,1.0]]],
[1,0,[[1.4,0.3],[2,0.5],[3,0.7],[4,0.82],[5,0.9],[7,0.97],[9,1.0],[60,1.0]]],
[2,0,[[1.4,0.22],[2,0.45],[3,0.66],[4,0.79],[6,0.92],[8,0.97],[10,1.0],[60,1.0]]],
[3,0,[[1.4,0.18],[2,0.4],[3,0.62],[4.5,0.79],[6,0.89],[8.5,0.97],[11,1.0],[60,1.0]]],
[4,0,[[1.4,0.14],[2,0.36],[3,0.58],[4.5,0.76],[6.5,0.88],[9,0.96],[12,1.0],[60,1.0]]],
[5,0,[[1.4,0.1],[2,0.3],[3,0.54],[5,0.75],[7,0.87],[10,0.96],[13,1.0],[60,1.0]]],
[6,0,[[1.4,0.06],[2,0.25],[3,0.5],[5,0.73],[7,0.85],[10,0.94],[14,1.0],[60,1.0]]],
[7,0,[[1.4,0.02],[2,0.2],[3,0.46],[5,0.7],[7.5,0.84],[11,0.94],[15,1.0],[60,1.0]]],
[8,0,[[1.5,-0.02],[2,0.15],[3,0.42],[5,0.67],[8,0.83],[11,0.92],[16,0.99],[18,1.0],[60,1.0]]],
[9,0,[[1.5,-0.06],[2,0.08],[3,0.35],[5,0.62],[8,0.8],[12,0.92],[16,0.98],[19,1.0],[60,1.0]]],
[10,0,[[1.6,-0.12],[2,-0.02],[3,0.25],[5,0.55],[7,0.7],[9,0.79],[12,0.9],[16,0.97],[20,1.0],[60,1.0]]],
[11,0,[[1.7,-0.25],[2,-0.12],[3,0.12],[4,0.32],[5,0.5],[7,0.67],[10,0.8],[14,0.92],[18,0.98],[22,1.0],[60,1.0]]]
];
const hhe29=[
[0,0,[[1.2,0.25],[3,0.42],[5,0.57],[7,0.72],[8.5,0.85],[9.5,0.95],[10.4,1.0],[60,1.0]]],
[1,0,[[1.2,0.18],[3,0.38],[5,0.54],[7,0.68],[9,0.82],[10.5,0.93],[11.3,1.0],[60,1.0]]],
[2,0,[[1.2,0.15],[3,0.36],[5,0.53],[7,0.66],[9,0.78],[10.8,0.9],[11.6,0.99],[12,1.0],[60,1.0]]],
[3,0,[[1.2,0.12],[3,0.35],[5,0.52],[7,0.64],[9,0.75],[11,0.86],[12.3,0.97],[12.7,1.0],[60,1.0]]],
[4,0,[[1.2,0.35],[3,0.47],[5,0.56],[7,0.64],[9,0.72],[11,0.82],[12.5,0.92],[13.5,0.99],[14,1.0],[60,1.0]]],
[5,0,[[1.2,0.45],[3,0.52],[5,0.57],[8,0.62],[11,0.67],[13.5,0.73],[14.8,0.8],[14.4,0.88],[13.6,0.95],[14.2,1.0],[60,1.0]]],
[6,0,[[1.2,0.665],[4,0.665],[8,0.67],[11,0.68],[13,0.72],[16,0.76],[20,0.79],[23.3,0.82],[22.5,0.84],[19,0.88],[16,0.95],[15.3,1.0],[60,1.0]]],
[7,0,[[15,1.0],[20,0.93],[25,0.9],[35,0.88],[45,0.87],[60,0.86]]],
[8,0,[[16,1.0],[21,0.95],[26,0.92],[35,0.9],[45,0.89],[60,0.88]]],
[9,0,[[17,1.0],[22,0.98],[27,0.95],[35,0.93],[45,0.92],[60,0.91]]],
[10,0,[[18,1.0],[23,0.995],[28,0.97],[35,0.96],[45,0.95],[60,0.94]]],
[11,0,[[14,1.0],[60,1.0]]]
];
const panelSeries=[[mdot23,mdot26,mdot29],[q23,q26,q29],[teff23,teff26,teff29],[cn23,cn26,cn29],[hhe23,hhe26,hhe29]];
const rowNames=["mdot","mass-ratio","teff","c12-n14","h1-he4"];

// ---------- layout ----------
const COLX=[130,667,1202], PW=519;
const ROWY=[39,401,763,1124,1485], PH=351;
const XMIN=1, XMAX=60;
const NS="http://www.w3.org/2000/svg";
const svg=document.getElementById("fig");
function el(tag,attrs,parent){const e=document.createElementNS(NS,tag);for(const k in attrs)e.setAttribute(k,attrs[k]);(parent||svg).appendChild(e);return e;}
function sx(c,x){return COLX[c]+(x-XMIN)/(XMAX-XMIN)*PW;}
function sy(r,y){const [a,b]=yRanges[r];return ROWY[r]+PH-(y-a)/(b-a)*PH;}
function dist(a,b){return Math.hypot(b[0]-a[0],b[1]-a[1]);}
function smoothPath(P){
  if(P.length<3)return "M"+P.map(p=>p[0].toFixed(1)+","+p[1].toFixed(1)).join("L");
  const k=0.3;
  let d="M"+P[0][0].toFixed(1)+","+P[0][1].toFixed(1);
  for(let i=0;i<P.length-1;i++){
    const p1=P[i],p2=P[i+1];
    const p0=i>0?P[i-1]:p1, p3=i+2<P.length?P[i+2]:p2;
    const seg=dist(p1,p2);
    const prev=i>0?dist(p0,p1):0, next=i+2<P.length?dist(p2,p3):0;
    let t1x=p2[0]-p0[0],t1y=p2[1]-p0[1],t2x=p3[0]-p1[0],t2y=p3[1]-p1[1];
    const n1=Math.hypot(t1x,t1y)||1,n2=Math.hypot(t2x,t2y)||1;
    const s1=Math.min(seg,prev)*k, s2=Math.min(seg,next)*k;
    const c1x=p1[0]+t1x/n1*s1,c1y=p1[1]+t1y/n1*s1,c2x=p2[0]-t2x/n2*s2,c2y=p2[1]-t2y/n2*s2;
    d+=`C${c1x.toFixed(1)},${c1y.toFixed(1)} ${c2x.toFixed(1)},${c2y.toFixed(1)} ${p2[0].toFixed(1)},${p2[1].toFixed(1)}`;
  }
  return d;
}

const defs=el("defs",{});
for(let r=0;r<5;r++)for(let c=0;c<3;c++){
  const cp=el("clipPath",{id:"cp"+r+c},defs);
  el("rect",{x:COLX[c],y:ROWY[r],width:PW,height:PH},cp);
}
function starPts(cx,cy,R,r0){let s=[];for(let i=0;i<10;i++){const a=-Math.PI/2+i*Math.PI/5;const rr=i%2?r0:R;s.push((cx+rr*Math.cos(a)).toFixed(1)+","+(cy+rr*Math.sin(a)).toFixed(1));}return s.join(" ");}

for(let r=0;r<5;r++){
  for(let c=0;c<3;c++){
    const g=el("g",{"clip-path":"url(#cp"+r+c+")"});
    
    
    const b=bands[r];
    const br=el("rect",{x:COLX[c],y:sy(r,b[1]),width:PW,height:sy(r,b[0])-sy(r,b[1]),fill:"#aaaaaa",stroke:"#999",'stroke-width':1.5},g);
    
    
    const vl=el("line",{x1:sx(c,refPeriod),x2:sx(c,refPeriod),y1:ROWY[r],y2:ROWY[r]+PH,stroke:"#8a8a8a","stroke-width":2},g);
    
    
    const ser=panelSeries[r][c];
    for(const s of ser){
      const [m,d,pts]=s;
      const P=pts.map(p=>[sx(c,p[0]),sy(r,p[1])]);
      const pl=el("path",{d:smoothPath(P),fill:"none",stroke:colors[m],"stroke-width":3.6,"stroke-linejoin":"round","stroke-linecap":d?"butt":"round"},g);
      if(d)pl.setAttribute("stroke-dasharray","11 6");
      
      
    }
    if(r===0){
      const dl=el("line",{x1:COLX[c],x2:COLX[c]+PW,y1:sy(0,eddLimit),y2:sy(0,eddLimit),stroke:"#000","stroke-width":2.2,"stroke-dasharray":"7 4"},g);
      
      
      const st=stars[c];
      const sm=el("polygon",{points:starPts(sx(c,st[0]),sy(0,st[1]),13,5.5),fill:colors[11],stroke:colors[10],"stroke-width":1},g);
      
      
    }
    const fr=el("rect",{x:COLX[c],y:ROWY[r],width:PW,height:PH,fill:"none",stroke:"#222","stroke-width":2});
    
    
    let tp="";
    for(let x=2;x<=60;x+=2){const X=sx(c,x);const L=(x%10===0)?11:6;
      tp+=`M${X},${ROWY[r]+PH}v${-L}M${X},${ROWY[r]}v${L}`;}
    const [a,bb]=yRanges[r];const mi=yMinor[r];
    for(let k=Math.ceil(a/mi-1e-6);k*mi<=bb+1e-9;k++){const v=k*mi;const Y=sy(r,v);
      const maj=yTickVals[r].some(t=>Math.abs(t-v)<mi*0.01);const L=maj?11:6;
      tp+=`M${COLX[c]},${Y}h${L}M${COLX[c]+PW},${Y}h${-L}`;}
    const tk=el("path",{d:tp,stroke:"#222","stroke-width":2,fill:"none"});
    
    
    if(c===0){
      yTickVals[r].forEach((v,i)=>{
        const t=el("text",{x:COLX[0]-8,y:sy(r,v)+8,"text-anchor":"end","font-size":24,fill:"#111"});
        t.textContent=yTickLabels[r][i];
        
        
      });
    }
    if(r===4){
      xTicks.forEach(v=>{
        const t=el("text",{x:sx(c,v),y:ROWY[4]+PH+32,"text-anchor":"middle","font-size":24,fill:"#111"});
        t.textContent=String(v);
        
        
      });
    }
  }
}
for(let m=0;m<12;m++){
  const y=113+m*23.2;
  const ln=el("line",{x1:532,x2:565,y1:y,y2:y,stroke:colors[m],"stroke-width":3.6});
  
  
  const t=el("text",{x:568,y:y+5,"font-size":14.5,fill:"#111"});
  t.innerHTML="M="+massLabels[m]+"M<tspan font-size='11' dy='3'>⊙</tspan>";
  
  
}
</script>
<script>
(function(){
const NS="http://www.w3.org/2000/svg";const svg=document.getElementById("fig");
const COLX=[130,667,1202],PW=519;
function add(html){const g=document.createElementNS(NS,"g");g.innerHTML=html;svg.appendChild(g);return g;}
const titles=["2.3","2.6","2.9"];
titles.forEach((p,c)=>{
  const cx=COLX[c]+PW/2;
  add(`<text x="${cx}" y="29" text-anchor="middle" font-size="19" fill="#111"><tspan font-style="italic">P</tspan><tspan font-size="14" dy="5">orb, i</tspan><tspan dy="-5">=${p} days</tspan></text>`);
  add(`<text x="${cx}" y="1898" text-anchor="middle" font-size="34" fill="#111">P<tspan font-size="25" dy="8">orb</tspan><tspan dy="-8"> (hr)</tspan></text>`);
});
const labs=[
 [214,`log <tspan font-style="italic">Ṁ</tspan>`],
 [576,`<tspan font-style="italic">M</tspan><tspan font-size="25" dy="8">donor</tspan><tspan dy="-8">/</tspan><tspan font-style="italic">M</tspan><tspan font-size="25" dy="8">WD</tspan>`],
 [938,`<tspan font-style="italic">T</tspan><tspan font-size="25" dy="8">eff</tspan><tspan dy="-8"> (K)</tspan>`],
 [1300,`log C<tspan font-size="23" dy="-13">12</tspan><tspan dy="13">/N</tspan><tspan font-size="23" dy="-13">14</tspan>`],
 [1661,`log H<tspan font-size="23" dy="-13">1</tspan><tspan dy="13">/He</tspan><tspan font-size="23" dy="-13">4</tspan>`]
];
const nm=["y-axis-title-mdot","y-axis-title-mass-ratio","y-axis-title-teff","y-axis-title-cn","y-axis-title-hhe"];
labs.forEach((l,i)=>{
  add(`<text transform="translate(46,${l[0]}) rotate(-90)" text-anchor="middle" font-size="34" fill="#111">${l[1]}</text>`);
});
})();
</script>
</body></html>
